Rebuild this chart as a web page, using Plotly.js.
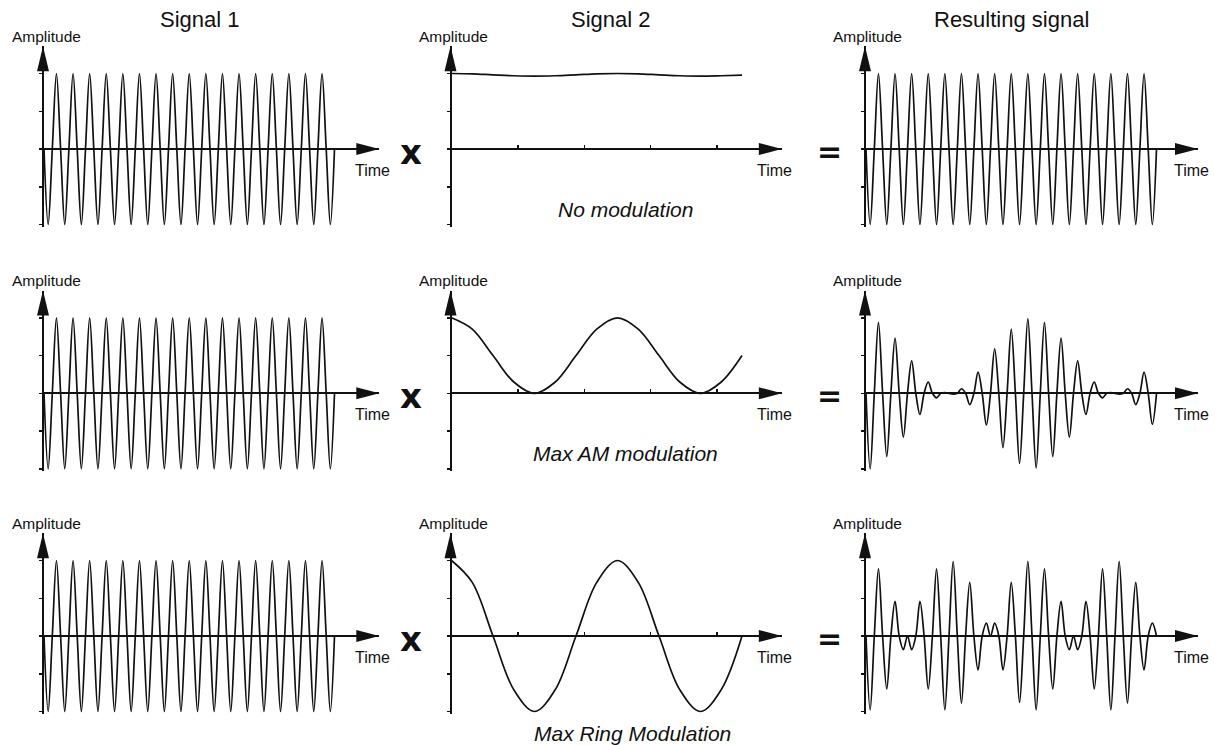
<!DOCTYPE html>
<html>
<head>
<meta charset="utf-8">
<script src="https://cdn.plot.ly/plotly-3.0.1.min.js"></script>
<style>
html,body{margin:0;padding:0;background:#ffffff;}
#chart{width:1215px;height:745px;}
</style>
</head>
<body>
<div id="chart"></div>
<script>
// ---------------- data ----------------
const columnTitles = ["Signal 1", "Signal 2", "Resulting signal"];
const rowLabels = ["No modulation", "Max AM modulation", "Max Ring Modulation"];
const yAxisLabel = "Amplitude";
const xAxisLabel = "Time";
const opSymbols = ["x", "="];

// time in carrier periods, sampled at quarter periods (peaks, troughs, zero crossings)
const time = [0,0.25,0.5,0.75,1,1.25,1.5,1.75,2,2.25,2.5,2.75,3,3.25,3.5,3.75,
  4,4.25,4.5,4.75,5,5.25,5.5,5.75,6,6.25,6.5,6.75,7,7.25,7.5,7.75,
  8,8.25,8.5,8.75,9,9.25,9.5,9.75,10,10.25,10.5,10.75,11,11.25,11.5,11.75,
  12,12.25,12.5,12.75,13,13.25,13.5,13.75,14,14.25,14.5,14.75,15,15.25,15.5,15.75,
  16,16.25,16.5,16.75,17,17.25,17.5];

// Signal 1 (carrier)
const carrier = [0,-1,0,1, 0,-1,0,1, 0,-1,0,1, 0,-1,0,1,
  0,-1,0,1, 0,-1,0,1, 0,-1,0,1, 0,-1,0,1,
  0,-1,0,1, 0,-1,0,1, 0,-1,0,1, 0,-1,0,1,
  0,-1,0,1, 0,-1,0,1, 0,-1,0,1, 0,-1,0,1,
  0,-1,0,1, 0,-1,0];

// Signal 2 (modulators), key points every 1.25 carrier periods
const modTime = [0,1.25,2.5,3.75,5,6.25,7.5,8.75,10,11.25,12.5,13.75,15,16.25,17.5];
const modNone = [1.0,0.995,0.982,0.97,0.965,0.97,0.982,0.995,1.0,0.995,0.982,0.97,0.965,0.97,0.978];
const modAM   = [1,0.85,0.5,0.15,0,0.15,0.5,0.85,1,0.85,0.5,0.15,0,0.15,0.5];
const modRing = [1,0.71,0,-0.71,-1,-0.71,0,0.71,1,0.71,0,-0.71,-1,-0.71,0];

// Resulting signals
const resultNone = [0,-1,0,1, 0,-1,0,1, 0,-1,0,1, 0,-1,0,1,
  0,-1,0,1, 0,-1,0,1, 0,-1,0,1, 0,-1,0,1,
  0,-1,0,1, 0,-1,0,1, 0,-1,0,1, 0,-1,0,1,
  0,-1,0,1, 0,-1,0,1, 0,-1,0,1, 0,-1,0,1,
  0,-1,0,1, 0,-1,0];
const resultAM = [0,-1.0,0,0.94, 0,-0.84,0,0.73, 0,-0.58,0,0.43, 0,-0.28,0,0.15,
  0,-0.06,0,0.01, 0,-0.01,0,0.06, 0,-0.15,0,0.28, 0,-0.42,0,0.59,
  0,-0.72,0,0.85, 0,-0.93,0,0.99, 0,-0.99,0,0.94, 0,-0.84,0,0.73,
  0,-0.58,0,0.43, 0,-0.28,0,0.15, 0,-0.06,0,0.01, 0,-0.01,0,0.06,
  0,-0.15,0,0.28, 0,-0.41,0];
const resultRing = [0,-0.98,0,0.89, 0,-0.70,0,0.46, 0,-0.18,0,-0.18, 0,0.46,0,-0.70,
  0,0.89,0,-0.98, 0,0.99,0,-0.89, 0,0.71,0,-0.45, 0,0.17,0,0.17,
  0,-0.45,0,0.71, 0,-0.88,0,0.99, 0,-0.98,0,0.89, 0,-0.70,0,0.46,
  0,-0.18,0,-0.18, 0,0.46,0,-0.70, 0,0.89,0,-0.98, 0,0.99,0,-0.89,
  0,0.71,0,-0.45, 0,0.17,0];

const ampTicks = [-1,-0.5,0,0.5,1];
const timeTicks = [4,8,12,16];

// ---------------- layout geometry (pixels) ----------------
const W = 1215, H = 745;
const PX_T = 16.6;          // pixels per carrier period
const PX_A = 75.5;          // pixels per amplitude unit
const Y_LO = -1.03, Y_HI = 1.36;
const colOrigin = [44, 451.5, 866];
const colXmax = [20.2, 19.9, 20.0];
const rowZero = [149, 393.3, 636];
const titleX = [200, 611, 1011];
const labelX = [625, 625, 632];
const labelY = [208, 452, 732];
const opX = [411, 829];

const INK = '#111111';
const FONT = '"Liberation Sans", Arial, Helvetica, sans-serif';
const px = v => v / W;
const py = v => 1 - v / H;

const panels = [
  [{x: time, y: carrier}, {x: modTime, y: modNone}, {x: time, y: resultNone}],
  [{x: time, y: carrier}, {x: modTime, y: modAM},   {x: time, y: resultAM}],
  [{x: time, y: carrier}, {x: modTime, y: modRing}, {x: time, y: resultRing}]
];

const traces = [];
const layout = {
  width: W, height: H,
  margin: {l: 0, r: 0, t: 0, b: 0},
  paper_bgcolor: '#ffffff', plot_bgcolor: 'rgba(0,0,0,0)',
  showlegend: false,
  font: {family: FONT, color: INK},
  shapes: [], annotations: []
};

for (let r = 0; r < 3; r++) {
  for (let c = 0; c < 3; c++) {
    const idx = r * 3 + c + 1;
    const sfx = idx === 1 ? '' : String(idx);
    const x0 = colOrigin[c];
    const xmax = colXmax[c];
    const zero = rowZero[r];
    const xTip = x0 + xmax * PX_T;
    const yTop = zero - Y_HI * PX_A;
    const yBot = zero - Y_LO * PX_A;

    traces.push({
      type: 'scatter', mode: 'lines',
      x: panels[r][c].x, y: panels[r][c].y,
      xaxis: 'x' + sfx, yaxis: 'y' + sfx,
      line: {color: INK, width: 1.7, shape: 'spline', smoothing: 1},
      hoverinfo: 'skip'
    });

    layout['xaxis' + sfx] = {
      domain: [px(x0), px(xTip)],
      range: [0, xmax],
      anchor: 'free', position: py(zero),
      showgrid: false, zeroline: false, showline: false,
      showticklabels: false,
      ticks: c === 1 ? 'inside' : '',
      tickvals: timeTicks, ticklen: 4, tickwidth: 1.5, tickcolor: INK,
      fixedrange: true
    };
    layout['yaxis' + sfx] = {
      domain: [py(yBot), py(yTop)],
      range: [Y_LO, Y_HI],
      anchor: 'x' + sfx,
      showgrid: false,
      showline: true, linewidth: 2, linecolor: INK,
      zeroline: true, zerolinewidth: 2, zerolinecolor: INK,
      ticks: 'outside', tickvals: ampTicks, ticklen: 3, tickwidth: 1.5, tickcolor: INK,
      showticklabels: false,
      fixedrange: true
    };

    // arrow heads
    const ax = x0 - 1;
    layout.shapes.push({
      type: 'path', xref: 'paper', yref: 'paper', layer: 'above',
      path: `M ${px(ax - 6)} ${py(yTop + 25)} L ${px(ax)} ${py(yTop)} L ${px(ax + 6)} ${py(yTop + 25)} Z`,
      fillcolor: INK, line: {width: 0}
    });
    layout.shapes.push({
      type: 'path', xref: 'paper', yref: 'paper', layer: 'above',
      path: `M ${px(xTip - 23)} ${py(zero - 6)} L ${px(xTip)} ${py(zero)} L ${px(xTip - 23)} ${py(zero + 6)} Z`,
      fillcolor: INK, line: {width: 0}
    });

    // axis labels
    layout.annotations.push({
      text: yAxisLabel, xref: 'paper', yref: 'paper',
      x: px(x0 + 2), y: py(yTop - 10), xanchor: 'center', yanchor: 'middle',
      showarrow: false, font: {size: 15.5, color: INK, family: FONT}
    });
    layout.annotations.push({
      text: xAxisLabel, xref: 'paper', yref: 'paper',
      x: px(xTip - 7), y: py(zero + 21), xanchor: 'center', yanchor: 'middle',
      showarrow: false, font: {size: 16, color: INK, family: FONT}
    });
  }
  // operator symbols
  for (let k = 0; k < 2; k++) {
    layout.annotations.push({
      text: '<b>' + opSymbols[k] + '</b>', xref: 'paper', yref: 'paper',
      x: px(opX[k]), y: py(rowZero[r] + (k === 0 ? 3 : 2)), xanchor: 'center', yanchor: 'middle',
      showarrow: false,
      font: {size: k === 0 ? 34 : 30, color: INK, family: '"DejaVu Sans", ' + FONT, weight: 'bold'}
    });
  }
  // row label
  layout.annotations.push({
    text: '<i>' + rowLabels[r] + '</i>', xref: 'paper', yref: 'paper',
    x: px(labelX[r]), y: py(labelY[r] + 1), xanchor: 'center', yanchor: 'middle',
    showarrow: false, font: {size: 21, color: INK, family: FONT, style: 'italic'}
  });
}

for (let c = 0; c < 3; c++) {
  layout.annotations.push({
    text: columnTitles[c], xref: 'paper', yref: 'paper',
    x: px(titleX[c]), y: py(20), xanchor: 'center', yanchor: 'middle',
    showarrow: false, font: {size: 22, color: INK, family: FONT}
  });
}

Plotly.newPlot('chart', traces, layout, {displayModeBar: false, staticPlot: true});
</script>
</body>
</html>
